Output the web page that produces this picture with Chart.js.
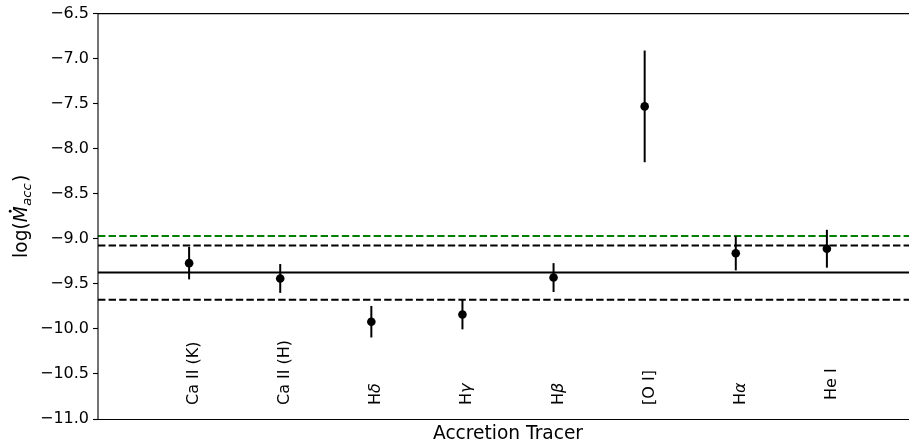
<!DOCTYPE html>
<html>
<head>
<meta charset="utf-8">
<script src="https://cdn.jsdelivr.net/npm/chart.js@4/dist/chart.umd.min.js"></script>
<style>
  html, body { margin: 0; padding: 0; overflow: hidden; background: #fff; }
  canvas { display: block; }
</style>
</head>
<body>
<canvas id="chart" width="930" height="442"></canvas>
<script>
// Accretion-rate estimates per emission-line tracer
const tracers = ['Ca II (K)', 'Ca II (H)', 'Hδ', 'Hγ', 'Hβ', '[O I]', 'Hα', ' He I'];
const logMdot = [-9.27, -9.44, -9.92, -9.84, -9.43, -7.53, -9.16, -9.11];
const logMdotErr = [0.18, 0.16, 0.175, 0.165, 0.16, 0.62, 0.19, 0.21];

// Summary lines: mean of the tracers, its spread, and a reference value
const meanLogMdot = -9.375;
const spreadLow = -9.675;
const spreadHigh = -9.075;
const referenceLogMdot = -8.97;

// Axis range and ticks
const xRange = [-1, 8];
const yRange = [-11.0, -6.5];
const yTickStep = 0.5;

const FONT = '"DejaVu Sans", "Liberation Sans", sans-serif';
const GREEK = /[\u0370-\u03ff]/;

function hline(value, color, dash) {
  return {
    type: 'line',
    data: [{ x: xRange[0], y: value }, { x: xRange[1], y: value }],
    borderColor: color,
    borderWidth: 2,
    borderDash: dash,
    pointRadius: 0,
    fill: false,
    order: 1
  };
}

// draw a label, setting Greek letters in italics as in math text
function drawMixed(ctx, text, size) {
  let x = 0;
  for (const ch of text) {
    ctx.font = (GREEK.test(ch) ? 'italic ' : '') + size + 'px ' + FONT;
    ctx.fillText(ch, x, 0);
    x += ctx.measureText(ch).width;
  }
}

const decorations = {
  id: 'decorations',
  beforeDatasetDraw(chart, args) {
    if (args.index !== 0) return;
    // error bars under the points
    const ctx = chart.ctx, xs = chart.scales.x, ys = chart.scales.y;
    ctx.save();
    ctx.strokeStyle = '#000';
    ctx.lineWidth = 2;
    logMdot.forEach((v, i) => {
      const px = xs.getPixelForValue(i);
      ctx.beginPath();
      ctx.moveTo(px, ys.getPixelForValue(v + logMdotErr[i]));
      ctx.lineTo(px, ys.getPixelForValue(v - logMdotErr[i]));
      ctx.stroke();
    });
    ctx.restore();
  },
  afterDatasetsDraw(chart) {
    const ctx = chart.ctx, a = chart.chartArea, xs = chart.scales.x;
    ctx.save();
    // frame
    ctx.strokeStyle = '#000';
    ctx.lineWidth = 1.1;
    ctx.beginPath();
    ctx.moveTo(a.left, a.bottom);
    ctx.lineTo(a.left, a.top);
    ctx.lineTo(a.right, a.top);
    ctx.moveTo(a.left, a.bottom + 0.5);
    ctx.lineTo(a.right, a.bottom + 0.5);
    ctx.stroke();

    // tracer names, written upward near the bottom of the panel
    ctx.fillStyle = '#000';
    ctx.textAlign = 'left';
    ctx.textBaseline = 'alphabetic';
    tracers.forEach((name, i) => {
      const px = xs.getPixelForValue(i);
      ctx.save();
      ctx.translate(px + 9, a.bottom - 14);
      ctx.rotate(-Math.PI / 2);
      drawMixed(ctx, name, 16);
      ctx.restore();
    });
    ctx.restore();
  },
  afterDraw(chart) {
    const ctx = chart.ctx, a = chart.chartArea;
    ctx.save();
    ctx.fillStyle = '#000';
    ctx.textBaseline = 'alphabetic';

    // x-axis title
    ctx.font = '18.6px ' + FONT;
    ctx.textAlign = 'center';
    ctx.fillText('Accretion Tracer', (a.left + a.right) / 2, 439);

    // y-axis title: log(Ṁ_acc)
    const normal = '18.6px ' + FONT;
    const ital = 'italic 18.6px ' + FONT;
    const sub = 'italic 13px ' + FONT;
    ctx.textAlign = 'left';
    ctx.font = normal;
    const w1 = ctx.measureText('log(').width;
    const w4 = ctx.measureText(')').width;
    ctx.font = ital;
    const w2 = ctx.measureText('M').width;
    ctx.font = sub;
    const w3 = ctx.measureText('acc').width;
    const total = w1 + w2 + w3 + w4 + 2;
    ctx.translate(27, (a.top + a.bottom) / 2);
    ctx.rotate(-Math.PI / 2);
    let x = -total / 2;
    ctx.font = normal;
    ctx.fillText('log(', x, 0);
    x += w1;
    ctx.font = ital;
    ctx.fillText('M', x, 0);
    ctx.beginPath();
    ctx.arc(x + w2 * 0.5 + 3, -16.8, 1.4, 0, Math.PI * 2);
    ctx.fill();
    x += w2 + 0.5;
    ctx.font = sub;
    ctx.fillText('acc', x, 3.8);
    x += w3 + 1.5;
    ctx.font = normal;
    ctx.fillText(')', x, 0);
    ctx.restore();
  }
};

new Chart(document.getElementById('chart'), {
  type: 'scatter',
  data: {
    datasets: [
      {
        type: 'scatter',
        data: tracers.map((t, i) => ({ x: i, y: logMdot[i] })),
        backgroundColor: '#000',
        borderWidth: 0,
        pointRadius: 4.3,
        pointHoverRadius: 4.3,
        order: 0
      },
      hline(referenceLogMdot, '#008000', [7.4, 3.2]),
      hline(spreadHigh, '#000', [7.4, 3.2]),
      hline(meanLogMdot, '#000', []),
      hline(spreadLow, '#000', [7.4, 3.2])
    ]
  },
  options: {
    responsive: false,
    animation: false,
    devicePixelRatio: 1,
    layout: { padding: { top: 12, right: 12, bottom: 23, left: 0 } },
    plugins: { legend: { display: false }, tooltip: { enabled: false } },
    scales: {
      x: {
        type: 'linear',
        min: xRange[0],
        max: xRange[1],
        display: false
      },
      y: {
        type: 'linear',
        min: yRange[0],
        max: yRange[1],
        afterFit(scale) { scale.width = 98; },
        border: { display: false },
        grid: {
          drawOnChartArea: false,
          drawTicks: true,
          tickLength: 5,
          tickWidth: 1.1,
          tickColor: '#000'
        },
        ticks: {
          stepSize: yTickStep,
          padding: 4,
          color: '#000',
          font: { family: FONT, size: 16 },
          callback: (v) => (v < 0 ? '\u2212' : '') + Math.abs(v).toFixed(1)
        }
      }
    }
  },
  plugins: [decorations]
});
</script>
</body>
</html>
